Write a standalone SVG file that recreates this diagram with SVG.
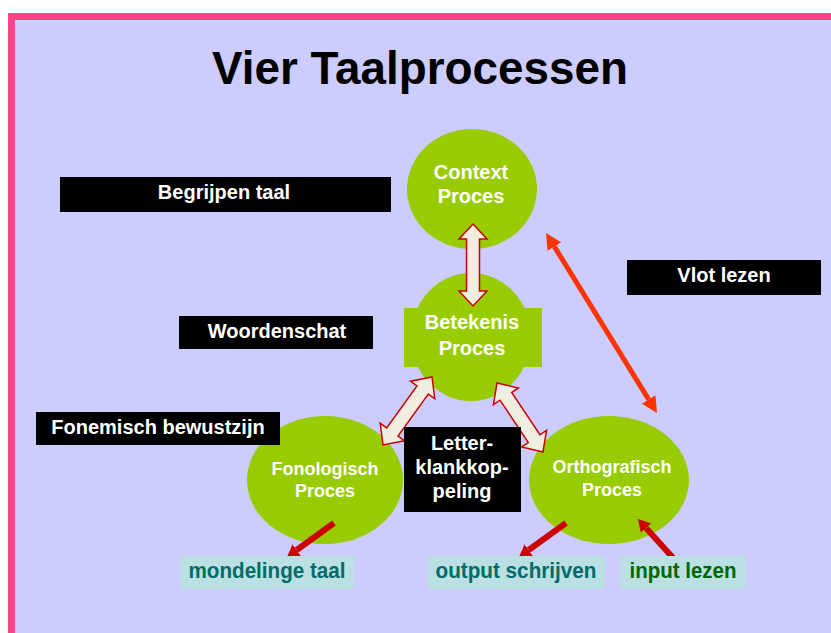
<svg xmlns="http://www.w3.org/2000/svg" width="831" height="633" viewBox="0 0 831 633">
<style>
text{font-family:"Liberation Sans",Arial,sans-serif;font-weight:bold;text-anchor:middle}
.w{fill:#ffffff}
.blob{fill:#99CC00}
.lbl{fill:#000000}
.lt{font-size:20px;fill:#ffffff}
.nt{font-size:20px;fill:#ffffff}
.ns{font-size:18px;fill:#ffffff}
.cy{fill:#BBE0E3}
.bt{font-size:22px;fill:#006B6B}
.bg{font-size:22px;fill:#006600}
.blk{fill:#F0EEE0;stroke:#CC0000;stroke-width:1.5;stroke-linejoin:miter}
.ra{stroke:#CC0000;stroke-width:6;fill:none;marker-end:url(#hr)}
.va{stroke:#FF3300;stroke-width:5;fill:none;marker-start:url(#ho);marker-end:url(#ho)}
</style>
<defs>
<marker id="hr" markerUnits="userSpaceOnUse" markerWidth="13" markerHeight="14" refX="0" refY="7" orient="auto">
<path d="M0,0 L12,7 L0,14 Z" fill="#CC0000"/>
</marker>
<marker id="ho" markerUnits="userSpaceOnUse" markerWidth="17" markerHeight="16" refX="0" refY="8" orient="auto-start-reverse">
<path d="M0,0 L16,8 L0,16 Z" fill="#FF3300"/>
</marker>
</defs>
<rect x="0" y="0" width="831" height="633" fill="#ffffff"/>
<rect x="8" y="13" width="823" height="620" fill="#FF4488"/>
<rect x="15" y="20" width="816" height="613" fill="#CCCCFF"/>
<text x="420" y="84" font-size="47" textLength="416" lengthAdjust="spacingAndGlyphs" fill="#000000">Vier Taalprocessen</text>

<g id="context">
<ellipse class="blob" cx="472" cy="189" rx="65" ry="60"/>
<text class="nt" x="471" y="179">Context</text>
<text class="nt" x="471" y="203">Proces</text>
</g>
<g id="betekenis">
<ellipse class="blob" cx="471" cy="337" rx="60" ry="64"/>
<rect class="blob" x="404" y="308" width="138" height="59"/>
<text class="nt" x="472" y="329">Betekenis</text>
<text class="nt" x="472" y="355">Proces</text>
</g>
<g id="fonologisch">
<ellipse class="blob" cx="325" cy="480" rx="78" ry="64"/>
<text class="ns" x="325" y="475">Fonologisch</text>
<text class="ns" x="325" y="497">Proces</text>
</g>
<g id="orthografisch">
<ellipse class="blob" cx="609" cy="480" rx="80" ry="64"/>
<text class="ns" x="612" y="473">Orthografisch</text>
<text class="ns" x="612" y="496">Proces</text>
</g>

<g id="connectors">
<path class="blk" transform="translate(473,224) rotate(90)" d="M0,0 L15,-14 L15,-6.5 L67,-6.5 L67,-14 L82,0 L67,14 L67,6.5 L15,6.5 L15,14 Z"/>
<path class="blk" transform="translate(432,377) rotate(125.8)" d="M0,0 L16,-15 L16,-7 L67.8,-7 L67.8,-15 L83.8,0 L67.8,15 L67.8,7 L16,7 L16,15 Z"/>
<path class="blk" transform="translate(497,383) rotate(56.3)" d="M0,0 L16,-15 L16,-7 L66.9,-7 L66.9,-15 L82.9,0 L66.9,15 L66.9,7 L16,7 L16,15 Z"/>
<line class="va" x1="554.4" y1="246.6" x2="648.6" y2="399.4"/>
<line class="ra" x1="334" y1="523" x2="296.7" y2="550"/>
<line class="ra" x1="566" y1="523" x2="528.7" y2="550"/>
<line class="ra" x1="675" y1="560" x2="646" y2="527.9"/>
</g>

<g id="letterklankkoppeling">
<rect class="lbl" x="404" y="427" width="117" height="85"/>
<text class="lt" x="462" y="450">Letter-</text>
<text class="lt" x="462" y="474">klankkop-</text>
<text class="lt" x="462" y="498">peling</text>
</g>
<g id="begrijpen">
<rect class="lbl" x="60" y="177" width="331" height="35"/>
<text class="lt" x="224" y="199">Begrijpen taal</text>
</g>
<g id="woordenschat">
<rect class="lbl" x="179" y="316" width="194" height="33"/>
<text class="lt" x="277" y="338">Woordenschat</text>
</g>
<g id="fonemisch">
<rect class="lbl" x="36" y="412" width="244" height="33"/>
<text class="lt" x="158" y="434">Fonemisch bewustzijn</text>
</g>
<g id="vlot">
<rect class="lbl" x="627" y="260" width="194" height="35"/>
<text class="lt" x="724" y="282">Vlot lezen</text>
</g>
<g id="mondelinge">
<rect class="cy" x="180" y="556" width="174" height="33"/>
<text class="bt" x="267" y="578" textLength="157" lengthAdjust="spacingAndGlyphs">mondelinge taal</text>
</g>
<g id="output">
<rect class="cy" x="428" y="556" width="177" height="33"/>
<text class="bt" x="516" y="578" textLength="161" lengthAdjust="spacingAndGlyphs">output schrijven</text>
</g>
<g id="input">
<rect class="cy" x="620" y="556" width="126" height="33"/>
<text class="bg" x="683" y="578" textLength="107" lengthAdjust="spacingAndGlyphs">input lezen</text>
</g>
</svg>
